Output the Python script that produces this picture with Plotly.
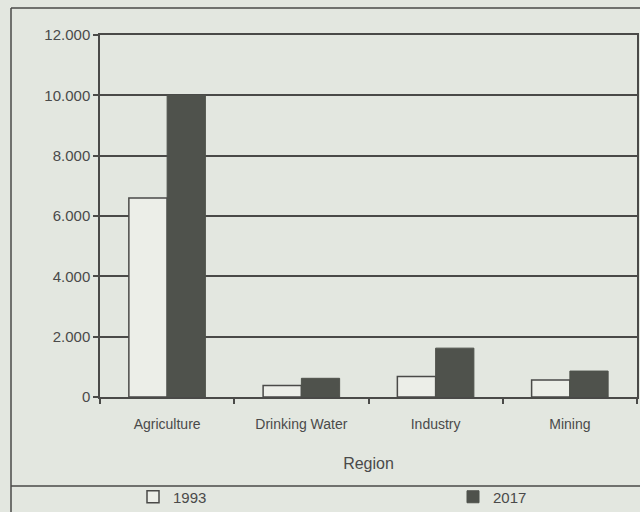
import plotly.graph_objects as go

# Water use by sector, two survey years
categories = ["Agriculture", "Drinking Water", "Industry", "Mining"]
values_1993 = [6600, 380, 680, 560]
values_2017 = [10000, 620, 1620, 860]
years = ["1993", "2017"]

BG = "#e3e7e0"
INK = "#4a4a48"
FONT = "Liberation Sans Narrow, Arial Narrow, Liberation Sans, Arial, sans-serif"

fig = go.Figure()
fig.add_trace(go.Bar(
    x=categories, y=values_1993, name=years[0], legend="legend",
    marker=dict(color="#eceee8", line=dict(color=INK, width=1.5)),
))
fig.add_trace(go.Bar(
    x=categories, y=values_2017, name=years[1], legend="legend2",
    marker=dict(color="#4f524c", line=dict(color="#4f524c", width=1)),
))

# pixel geometry of the plotting area
L, R, T, B = 100, 3, 35, 115
W, H = 640 - L - R, 512 - T - B


def px_x(px):
    return (px - L) / W


def px_y(py):
    return (512 - B - py) / H


frame = dict(color=INK, width=1.5)
shapes = [
    # outer frame (left and top) and the divider above the legend row
    dict(type="line", xref="paper", yref="paper", x0=px_x(11), x1=px_x(640),
         y0=px_y(8), y1=px_y(8), line=frame),
    dict(type="line", xref="paper", yref="paper", x0=px_x(11), x1=px_x(11),
         y0=px_y(8), y1=px_y(512), line=frame),
    dict(type="line", xref="paper", yref="paper", x0=px_x(11), x1=px_x(640),
         y0=px_y(486), y1=px_y(486), line=frame),
]

legend_common = dict(
    orientation="h", xanchor="left", yanchor="middle", y=px_y(497),
    bgcolor="rgba(0,0,0,0)", font=dict(size=15), itemwidth=30,
)

fig.update_layout(
    width=640, height=512,
    margin=dict(l=L, r=R, t=T, b=B, autoexpand=False),
    paper_bgcolor=BG, plot_bgcolor=BG,
    font=dict(family=FONT, color="#4a4a4a", size=14),
    separators=",.",
    barmode="group", bargap=0.43, bargroupgap=0,
    shapes=shapes,
    showlegend=True,
    legend=dict(x=px_x(133), **legend_common),
    legend2=dict(x=px_x(453), **legend_common),
    xaxis=dict(
        type="category", tickson="boundaries", ticks="outside", ticklen=5,
        tickcolor=INK, tickwidth=1.5, showline=True, linecolor=INK, linewidth=1.5,
        mirror=True, showgrid=False, tickfont=dict(size=14), ticklabelstandoff=13,
        title=dict(text="Region", font=dict(size=16), standoff=27),
    ),
    yaxis=dict(
        range=[0, 12000], tickvals=[0, 2000, 4000, 6000, 8000, 10000, 12000],
        tickformat=",.0f", ticks="outside", ticklen=5, tickcolor=INK, tickwidth=1.5,
        showline=True, linecolor=INK, linewidth=1.5, mirror=True,
        showgrid=True, gridcolor=INK, gridwidth=1.5, zeroline=False,
        tickfont=dict(size=15),
    ),
)

fig.write_html("out.html")
